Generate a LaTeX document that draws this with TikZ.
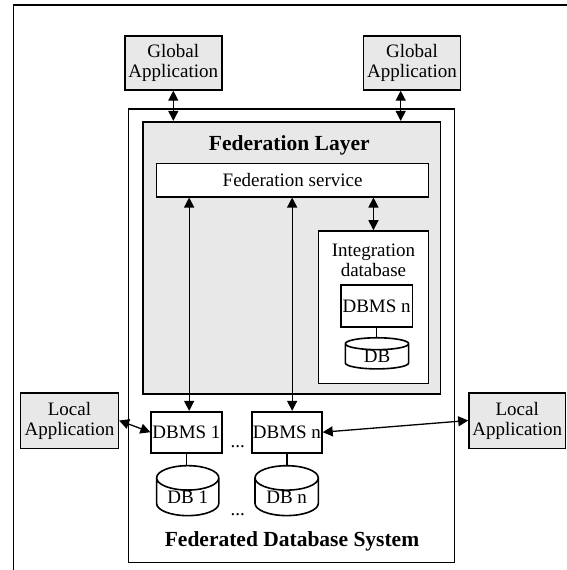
\documentclass[tikz,border=0pt]{standalone}
\usepackage{fontspec}
\setmainfont{Liberation Serif}
\usetikzlibrary{arrows.meta,shapes.geometric}
\definecolor{fillgray}{RGB}{232,232,232}
\newcommand\normtxt{\fontsize{19}{20}\selectfont}
\newcommand\boldtxt{\fontsize{21.5}{22}\selectfont\bfseries}
\begin{document}
\begin{tikzpicture}[x=1pt,y=-1pt,
  box/.style={draw,line width=1.6pt,inner sep=0pt,font=\normtxt,fill=white},
  graybox/.style={box,fill=fillgray},
  link/.style={line width=1.3pt,{Triangle[length=10pt,width=10pt]}-{Triangle[length=10pt,width=10pt]}},
  plainline/.style={line width=1.3pt},
  cyl/.style={cylinder,shape border rotate=90,draw,line width=1.6pt,aspect=0.6,inner sep=0pt,font=\normtxt,fill=white},
  title/.style={font=\boldtxt,inner sep=0pt,anchor=base},
  lbl/.style={font=\normtxt,inner sep=0pt}
]
\useasboundingbox (0,0) rectangle (567,570);
\draw[line width=1.4pt] (13.7,570) -- (13.7,5) -- (567,5);

\node[graybox,minimum width=97,minimum height=54,align=center] (ga1) at (173.3,62.9) {Global\\Application};
\node[graybox,minimum width=97,minimum height=54,align=center] (ga2) at (412,62.9) {Global\\Application};

\node[box,minimum width=326.2,minimum height=453.3] (sys) at (291.5,335.65) {};
\node[graybox,minimum width=297.6,minimum height=272.3] (fl) at (291.7,257.85) {};
\node[title] (fltitle) at (289.3,150) {Federation Layer};
\node[box,minimum width=272,minimum height=33.4] (fs) at (292.6,180) {Federation service};

\node[box,minimum width=110.3,minimum height=152.3] (idb) at (373.45,307.15) {};
\node[lbl,align=center,anchor=north] (idbtitle) at (373.45,243.7) {Integration\\database};
\node[box,minimum width=71.3,minimum height=41.7] (dbmsi) at (376.65,305.85) {DBMS n};
\node[cyl,minimum width=63.3,minimum height=30,aspect=0.45] (dbi) at (377,356.7) {DB};

\node[box,minimum width=70.5,minimum height=41] (d1) at (186.45,432.2) {DBMS 1};
\node[box,minimum width=69.9,minimum height=41] (dn) at (286.95,432.2) {DBMS n};
\node[lbl,anchor=base] (dots1) at (237.8,447) {...};
\node[cyl,minimum width=62.2,minimum height=42.3] (db1) at (187.7,497.15) {DB 1};
\node[cyl,minimum width=63.3,minimum height=42.3] (dbn) at (286.65,497.15) {DB n};
\node[lbl,anchor=base] (dots2) at (237.8,515) {...};
\node[title] (fdstitle) at (292,546.7) {Federated Database System};

\node[graybox,minimum width=97.7,minimum height=55.6,align=center] (ll) at (69.45,420.5) {Local\\Application};
\node[graybox,minimum width=96.3,minimum height=55.6,align=center] (lr) at (517.15,420.5) {Local\\Application};

\draw[link] (ga1.south) -- (ga1.south |- fl.north);
\draw[link] ([xshift=-11.3pt]ga2.south) -- ([xshift=-11.3pt]ga2.south |- fl.north);
\draw[link] ([xshift=2.7pt]d1.north |- fs.south) -- ([xshift=2.7pt]d1.north);
\draw[link] ([xshift=5.2pt]dn.north |- fs.south) -- ([xshift=5.2pt]dn.north);
\draw[link] (fs.south -| idb.north) -- (idb.north);
\draw[link] (ll.east) -- (d1.west);
\draw[link] (dn.east) -- (lr.west);
\draw[plainline] (dbmsi.south) -- (dbmsi.south |- dbi.north);
\draw[plainline] (d1.south) -- (d1.south |- db1.north);
\draw[plainline] (dn.south) -- (dn.south |- dbn.north);
\end{tikzpicture}
\end{document}
